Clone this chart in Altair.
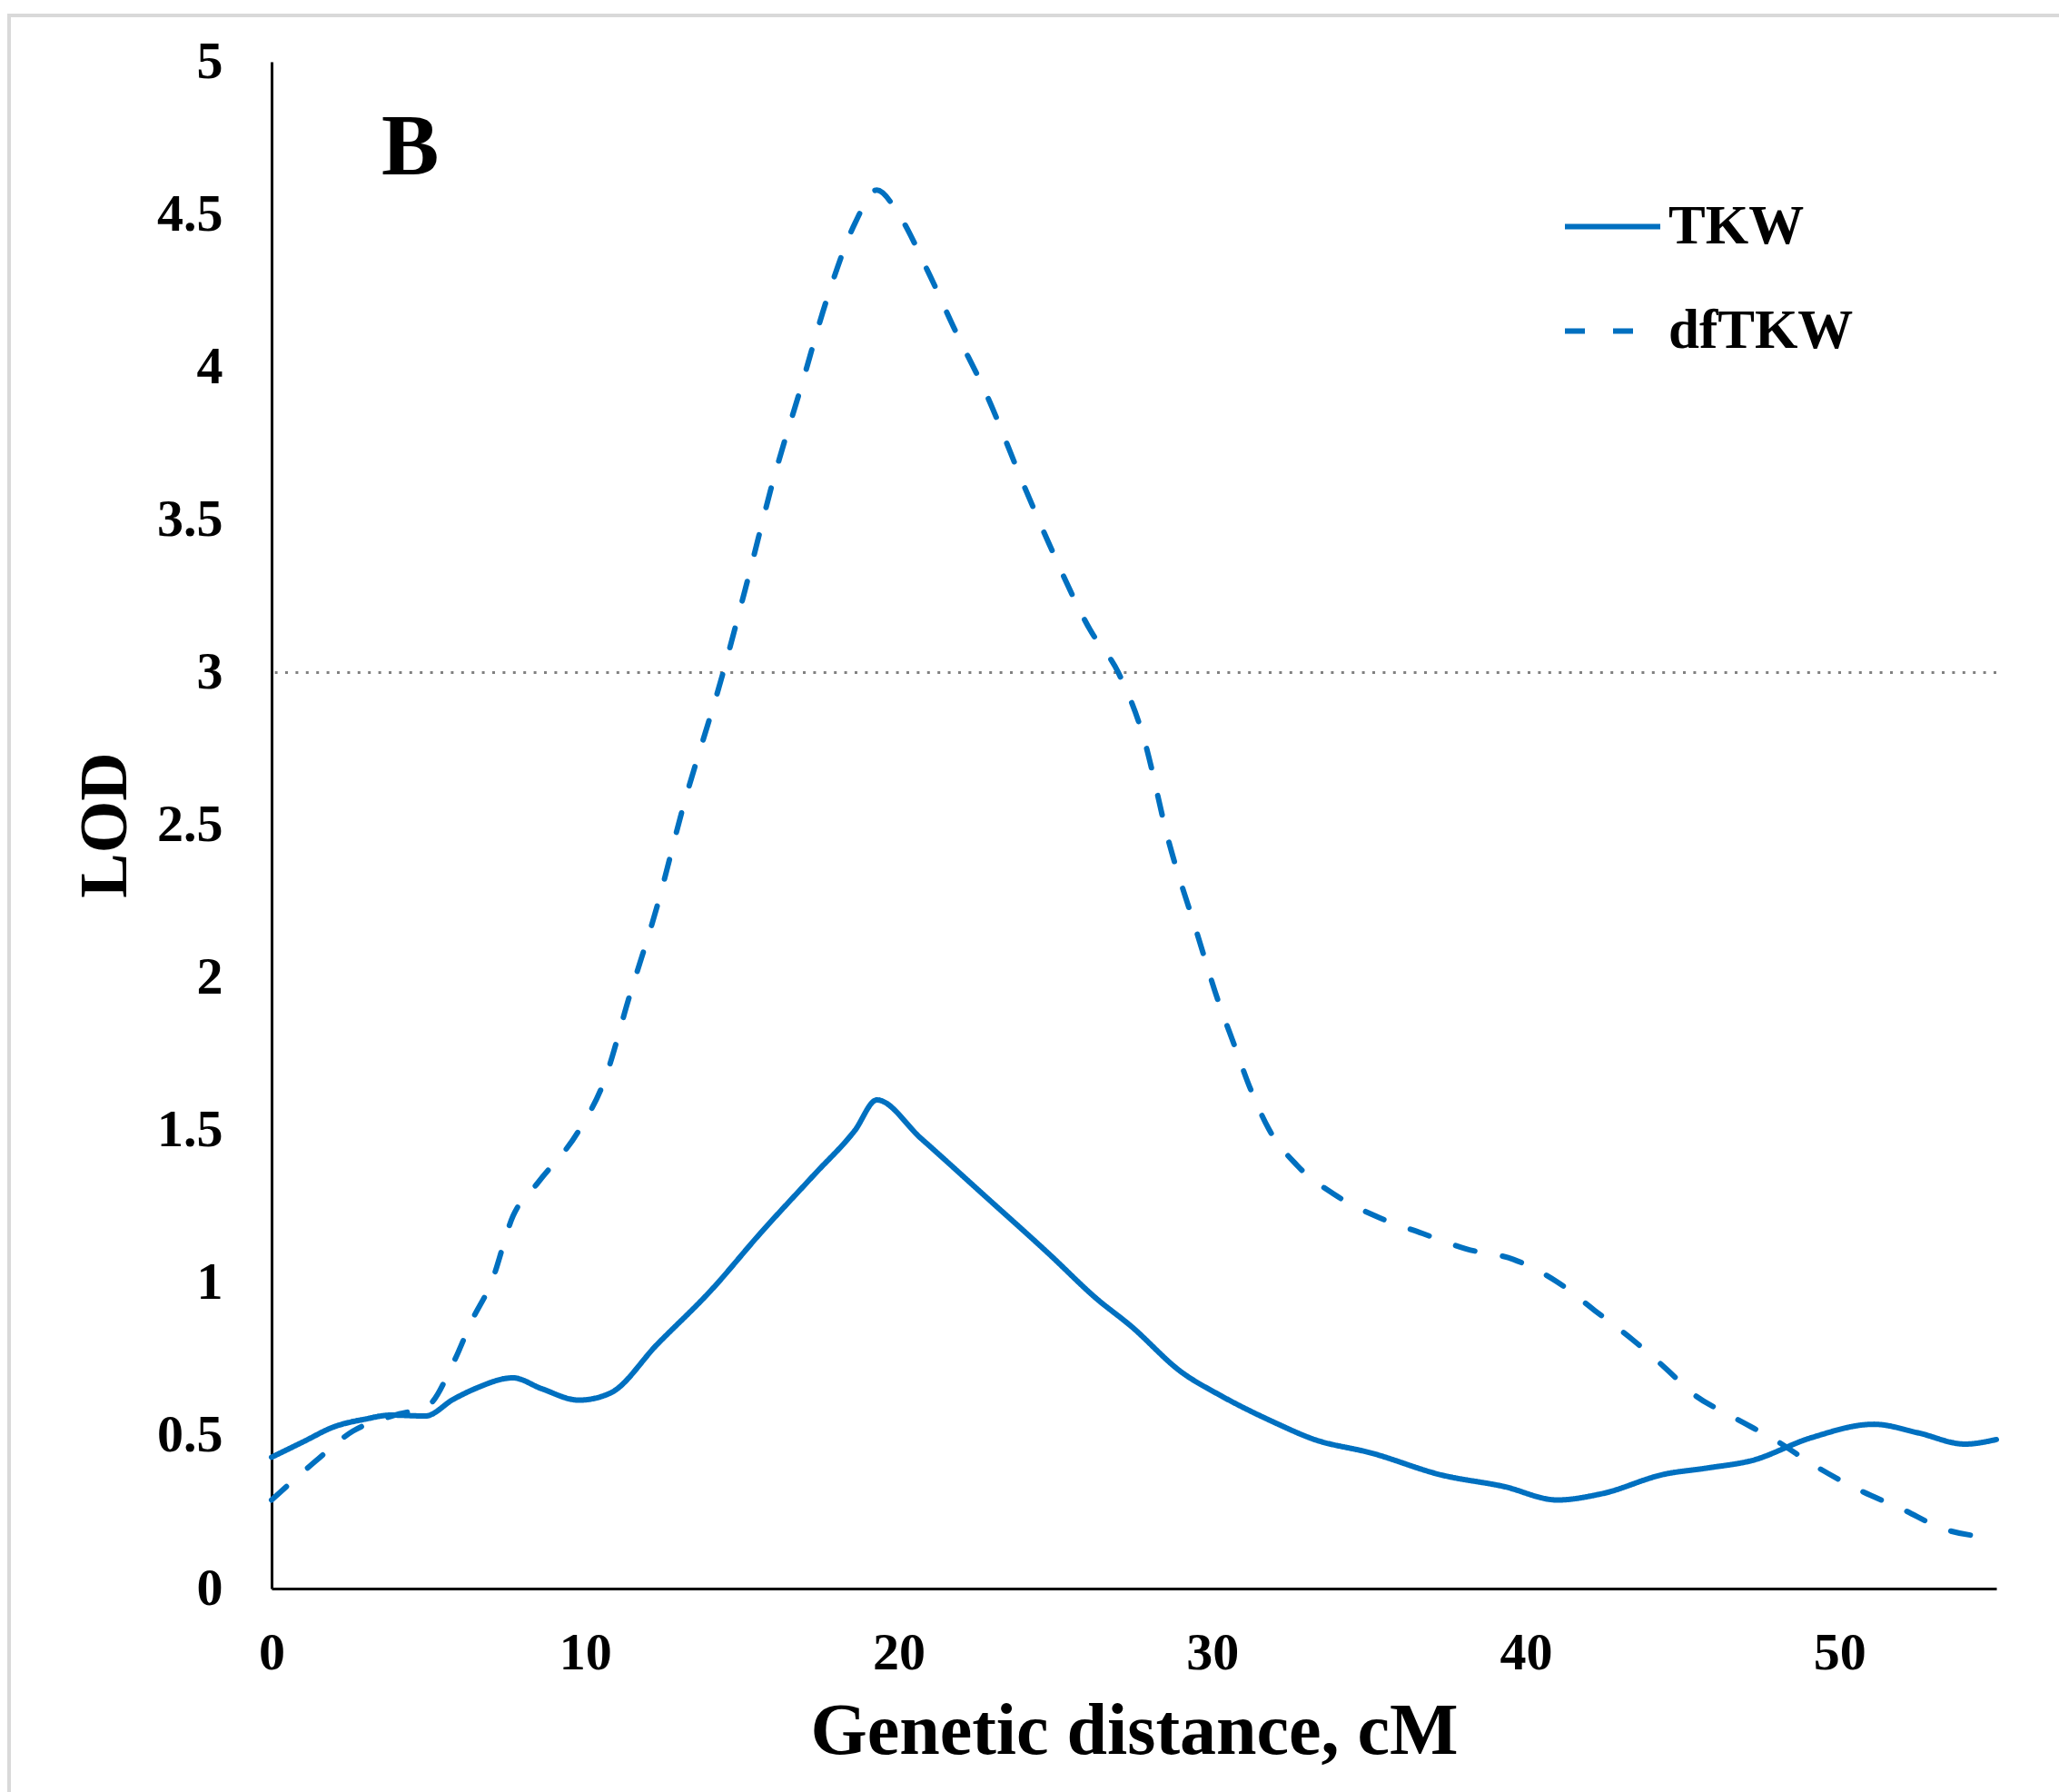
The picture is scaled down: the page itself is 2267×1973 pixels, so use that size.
import altair as alt
import pandas as pd

# ---- data ----
tkw_cm = [0, 1, 2, 3, 3.8, 4.9, 5.8, 6.5, 7.7, 8.6, 9.8, 10.8, 12.3, 14, 15.6, 17.3,
          18.6, 19.3, 20.7, 22.7, 24.8, 26.3, 27.4, 29, 30.3, 32, 33.2, 35.1, 37.3,
          39.3, 41, 42.4, 44.4, 45.8, 47.2, 49.1, 51.1, 52.5, 54, 55]
tkw_lod = [0.43, 0.48, 0.53, 0.555, 0.568, 0.565, 0.62, 0.655, 0.69, 0.655, 0.617,
           0.64, 0.8, 0.975, 1.165, 1.355, 1.5, 1.6, 1.475, 1.29, 1.095, 0.95, 0.86,
           0.71, 0.63, 0.543, 0.49, 0.443, 0.372, 0.334, 0.29, 0.31, 0.374, 0.395,
           0.419, 0.494, 0.538, 0.51, 0.473, 0.488]

df_cm = [0, 1.4, 2.6, 3.9, 5.0, 5.8, 6.4, 7.0, 7.7, 8.5, 9.8, 10.6, 11.4, 12.3, 13.1,
         14.4, 15.2, 16.0, 16.9, 17.7, 18.6, 19.3, 20.0, 20.9, 21.8, 22.8, 24.0, 24.8,
         26.1, 27.0, 27.8, 28.6, 29.5, 30.2, 30.7, 31.2, 31.8, 32.7, 33.9, 35.2, 36.7,
         38.1, 39.6, 41.0, 42.2, 43.4, 44.5, 45.3, 46.6, 48.0, 49.2, 50.6, 52.0, 53.3, 55]
df_lod = [0.29, 0.417, 0.516, 0.567, 0.6, 0.74, 0.88, 1.0, 1.22, 1.33, 1.5, 1.66,
          1.935, 2.236, 2.55, 3.0, 3.31, 3.63, 3.94, 4.22, 4.47, 4.58, 4.5, 4.32, 4.12,
          3.91, 3.61, 3.42, 3.14, 3.0, 2.79, 2.45, 2.15, 1.92, 1.78, 1.64, 1.505, 1.386,
          1.29, 1.22, 1.163, 1.112, 1.078, 1.004, 0.91, 0.815, 0.717, 0.64, 0.562,
          0.483, 0.403, 0.324, 0.26, 0.196, 0.166]

series_names = ["TKW", "dfTKW"]
threshold = [3]
x_ticks = [0, 10, 20, 30, 40, 50]
y_ticks = [0, 0.5, 1, 1.5, 2, 2.5, 3, 3.5, 4, 4.5, 5]

FONT = "Liberation Serif"
BLUE = "#0070C0"

df = pd.concat([
    pd.DataFrame({"cM": tkw_cm, "LOD": tkw_lod, "trait": "TKW"}),
    pd.DataFrame({"cM": df_cm, "LOD": df_lod, "trait": "dfTKW"}),
])

x_scale = alt.Scale(domain=[0, 55], nice=False, zero=False)
y_scale = alt.Scale(domain=[0, 5], nice=False)

lines = alt.Chart(df).mark_line(
    color=BLUE, strokeWidth=6, interpolate="monotone", strokeCap="round"
).encode(
    x=alt.X("cM:Q", scale=x_scale, title="Genetic distance, cM",
            axis=alt.Axis(values=x_ticks, labelExpr="datum.value + ''",
                          labelFlush=False,
                          titleY=181, titleBaseline="alphabetic",
                          labelPadding=42)),
    y=alt.Y("LOD:Q", scale=y_scale, title="LOD",
            axis=alt.Axis(values=y_ticks, labelExpr="datum.value + ''",
                          labelFlush=False,
                          titleX=-161, titleY=840, titleBaseline="alphabetic",
                          titleAlign="center", titleFontSize=74,
                          labelPadding=54)),
    strokeDash=alt.StrokeDash(
        "trait:N",
        scale=alt.Scale(domain=series_names, range=[[1, 0], [22, 31]]),
        legend=alt.Legend(
            title=None, orient="none", legendX=1421, legendY=126,
            symbolType="stroke", symbolSize=11025, symbolStrokeWidth=6,
            symbolStrokeColor=BLUE, labelFont=FONT, labelFontWeight="bold",
            labelFontSize=61, labelColor="black", labelOffset=6,
            rowPadding=29, padding=0, labelLimit=0,
        ),
    ),
)

thr = alt.Chart(pd.DataFrame({"y": threshold})).mark_rule(
    color="#808080", strokeWidth=3, strokeDash=[3, 8.4]
).encode(y=alt.Y("y:Q", scale=y_scale))

panel = alt.Chart(pd.DataFrame({"t": ["B"]})).mark_text(
    font=FONT, fontWeight="bold", fontSize=95, align="left", baseline="alphabetic",
    color="black"
).encode(text="t:N", x=alt.value(121), y=alt.value(124))

frame_top = alt.Chart(pd.DataFrame({"a": [0]})).mark_rule(
    color="#d9d9d9", strokeWidth=4
).encode(x=alt.value(-291), x2=alt.value(1968), y=alt.value(-51))
frame_left = alt.Chart(pd.DataFrame({"a": [0]})).mark_rule(
    color="#d9d9d9", strokeWidth=4
).encode(x=alt.value(-289), y=alt.value(-53), y2=alt.value(1905))

chart = alt.layer(frame_top, frame_left, thr, lines, panel).properties(
    width=1899, height=1681,
    autosize=alt.AutoSizeParams(type="none"),
    padding={"left": 299, "top": 68, "right": 69, "bottom": 224},
    background="white",
).configure_view(stroke=None).configure_axis(
    grid=False, ticks=False, tickSize=0, domainColor="black", domainWidth=3,
    labelFont=FONT, labelFontWeight="bold", labelFontSize=58, labelColor="black",
    titleFont=FONT, titleFontWeight="bold", titleFontSize=80, titleColor="black",
)

chart.save("out.html", embed_options={"renderer": "svg", "actions": False})
